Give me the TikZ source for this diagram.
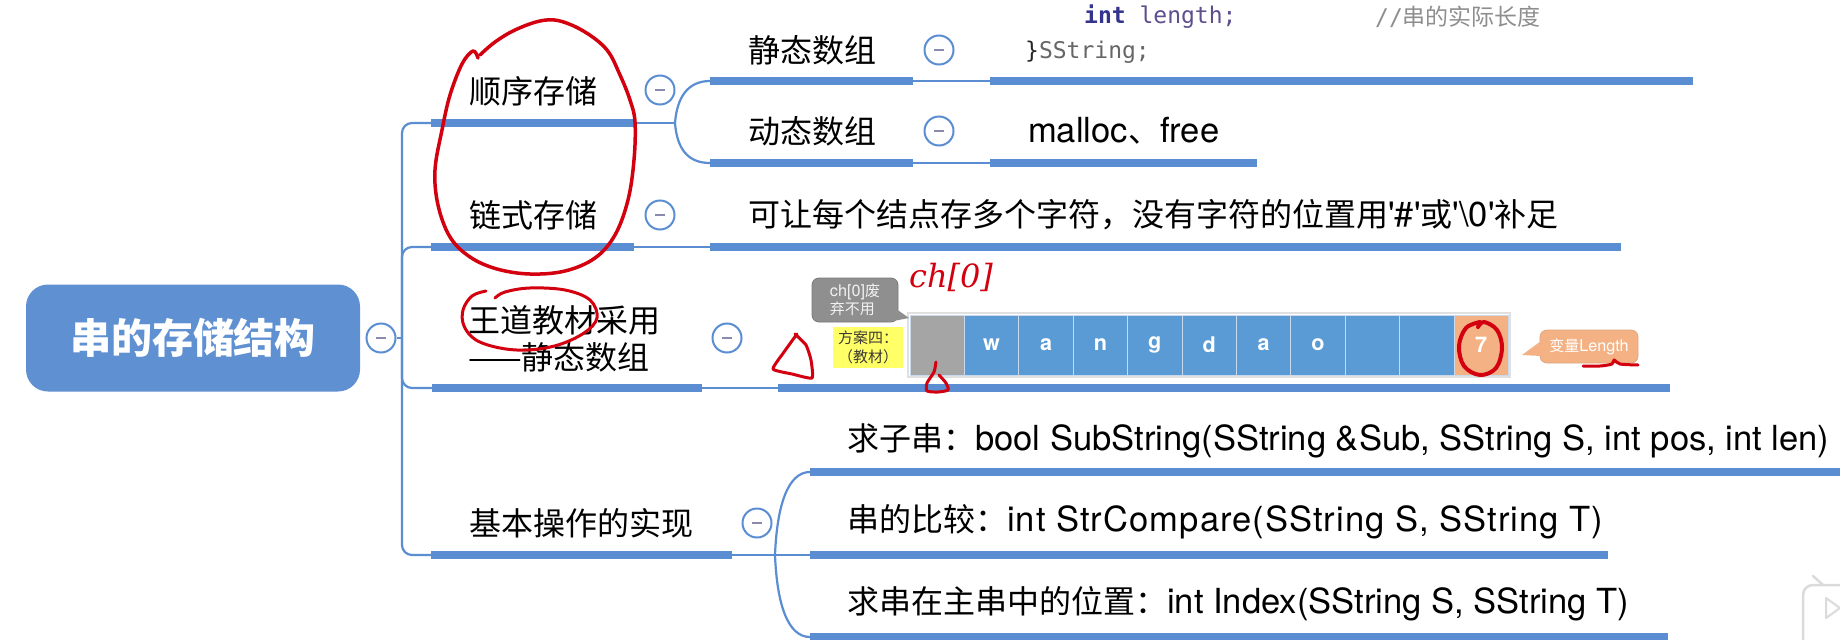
\documentclass[tikz,border=0pt]{standalone}
\usepackage{fontspec}
\setmainfont{TeX Gyre Heros}[Scale=1.08]
\newfontfamily\cjk{Noto Sans CJK SC}
\newfontfamily\monof{DejaVu Sans Mono}
\newfontfamily\handf{DejaVu Serif}
\newfontfamily\widelat{TeX Gyre Heros}[Scale=1.08, LetterSpace=3]
\newcommand{\zhx}[1]{{\cjk #1}}
\definecolor{lineblue}{HTML}{5B8DD3}
\definecolor{rootblue}{HTML}{5E90D2}
\definecolor{cellblue}{HTML}{5B9BD5}
\definecolor{cellgray}{HTML}{A5A5A5}
\definecolor{cellorange}{HTML}{F4B183}
\definecolor{cellline}{HTML}{C9DAEE}
\definecolor{calloutgray}{HTML}{8F8F8F}
\definecolor{hlyellow}{HTML}{FFFF66}
\definecolor{inkred}{HTML}{D3000F}
\definecolor{minuscol}{HTML}{8A8AB0}
\definecolor{kwblue}{HTML}{34348F}
\definecolor{varpurple}{HTML}{5E4E8E}
\definecolor{cmtgray}{HTML}{8E8E8E}
\tikzset{
  bar/.style={draw=lineblue, line width=8pt},
  conn/.style={draw=lineblue, line width=2.2pt},
  collapse/.style={circle, draw=lineblue, line width=2pt, fill=white, minimum size=29pt, inner sep=0pt,
    path picture={\draw[minuscol, line width=2.4pt] ([xshift=-5pt]path picture bounding box.center) -- ([xshift=5pt]path picture bounding box.center);}},
  rootbox/.style={rectangle, rounded corners=22pt, fill=rootblue, minimum width=334pt, minimum height=107pt,
    text=white, font=\fontsize{41}{48}\selectfont\cjk\bfseries},
  lvl/.style={anchor=west, inner sep=0pt, font=\fontsize{32}{38}\selectfont, align=left},
  codet/.style={anchor=west, inner sep=0pt, font=\fontsize{23}{28}\selectfont\monof},
  cell/.style={rectangle, minimum width=54.4pt, minimum height=60pt, draw=cellline, line width=1pt,
    text=white, inner sep=0pt, font=\fontsize{20}{24}\selectfont\bfseries},
  gcallout/.style={rectangle, rounded corners=7pt, fill=calloutgray, draw=calloutgray!85!black, line width=0.8pt,
    minimum width=86pt, minimum height=44pt, text=white!90!gray, align=left, inner sep=2pt,
    font=\fontsize{15}{18}\selectfont},
  ybox/.style={rectangle, fill=hlyellow, minimum width=70pt, minimum height=41pt, inner sep=1pt, align=center,
    text=black!80!yellow!60!black, font=\fontsize{15}{19}\selectfont},
  ocallout/.style={rectangle, rounded corners=7pt, fill=cellorange, draw=cellorange!80!gray, line width=0.8pt,
    minimum width=98pt, minimum height=33pt, text=white, inner sep=1pt, font=\fontsize{15}{18}\selectfont},
  redink/.style={draw=inkred, line width=3.5pt, line cap=round, line join=round},
}
\begin{document}
\begin{tikzpicture}[x=1pt,y=-1pt]
\useasboundingbox (0,0) rectangle (1840,640);
\fill[white] (0,0) rectangle (1840,640);

% ---------- root ----------
\node[rootbox] (root) at (193,338) {串的存储结构};
\node[collapse] (c0) at (381,338) {};
\coordinate (T) at (402,338);
\draw[conn] (c0.east) -- (T);

% ---------- level 1 coordinates ----------
\coordinate (a1) at (431,123); \coordinate (a2) at (634,123);
\coordinate (b1) at (431,247); \coordinate (b2) at (634,247);
\coordinate (w1) at (432,388); \coordinate (w2) at (702,388);
\coordinate (o1) at (431,555); \coordinate (o2) at (732,555);

\draw[conn, rounded corners=10pt] (T) |- (a1);
\draw[conn, rounded corners=10pt] (T) |- (b1);
\draw[conn, rounded corners=10pt] (T) |- (w1);
\draw[conn, rounded corners=10pt] (T) |- (o1);
\draw[bar] (a1) -- (a2);
\draw[bar] (b1) -- (b2);
\draw[bar] (w1) -- (w2);
\draw[bar] (o1) -- (o2);

\node[lvl] (nA) at (469,91) {\zhx{顺序存储}};
\node[lvl] (nB) at (469,215) {\zhx{链式存储}};
\node[lvl] (nC) at (468,339) {\zhx{王道教材采用}\\[-1pt]\zhx{——静态数组}};
\node[lvl] (nD) at (469,523) {\zhx{基本操作的实现}};
\node[collapse] (kA) at (660,90) {};
\node[collapse] (kB) at (660,215) {};
\node[collapse] (kC) at (727,338) {};
\node[collapse] (kD) at (757,523) {};

% ---------- 顺序存储 children ----------
\coordinate (jA) at (675,123);
\coordinate (s1) at (710,81); \coordinate (s2) at (913,81);
\coordinate (d1) at (710,163); \coordinate (d2) at (913,163);
\draw[conn] (a2) -- (jA);
\draw[conn] (jA) .. controls (677,97) and (688,81) .. (s1);
\draw[conn] (jA) .. controls (677,149) and (688,163) .. (d1);
\draw[bar] (s1) -- (s2);
\draw[bar] (d1) -- (d2);
\node[lvl] (nS) at (748,50) {\zhx{静态数组}};
\node[lvl] (nDy) at (748,131) {\zhx{动态数组}};
\node[collapse] (kS) at (939,50) {};
\node[collapse] (kDy) at (939,131) {};

\coordinate (s3) at (990,81); \coordinate (s4) at (1693,81);
\coordinate (d3) at (990,163); \coordinate (d4) at (1257,163);
\draw[conn] (s2) -- (s3);
\draw[conn] (d2) -- (d3);
\draw[bar] (s3) -- (s4);
\draw[bar] (d3) -- (d4);
\node[codet] (code1) at (1084,17) {{\bfseries\color{kwblue}int} {\color{varpurple}length;}};
\node[codet] (code2) at (1375,17) {\color{cmtgray}//{\cjk 串的实际长度}};
\node[codet] (code3) at (1025,52) {{\color{black!85}\}}{\color{black!60}SString;}};
\node[lvl] (nM) at (1028,131) {malloc\zhx{、}free};

% ---------- 链式存储 child ----------
\coordinate (b3) at (710,247); \coordinate (b4) at (1621,247);
\draw[conn] (b2) -- (b3);
\draw[bar] (b3) -- (b4);
\node[lvl] (nL) at (748,215) {\zhx{可让每个结点存多个字符，没有字符的位置用}\textquotesingle\#\textquotesingle\zhx{或}\textquotesingle\textbackslash0\textquotesingle\zhx{补足}};

% ---------- 王道 child : array ----------
\coordinate (w3) at (778,388); \coordinate (w4) at (1670,388);
\draw[conn] (w2) -- (w3);
\draw[bar] (w3) -- (w4);
\draw[black!12, line width=2pt] (908,313) rectangle (1510,377);
\foreach \i/\t/\c in {0//cellgray,1/w/cellblue,2/a/cellblue,3/n/cellblue,4/g/cellblue,5/d/cellblue,6/a/cellblue,7/o/cellblue,8//cellblue,9//cellblue,10/7/cellorange}
  \node[cell, fill=\c] (cell\i) at ({910+54.4*\i+27.2},345) {\t};
\node[gcallout] (gc) at (855,300) {ch[0]\zhx{废}\\\zhx{弃不用}};
\fill[calloutgray] (892,306) -- (909,318) -- (888,322) -- cycle;
\node[ybox] (yb) at (868,347.5) {\zhx{方案四：}\\\zhx{（教材）}};
\node[ocallout] (oc) at (1589,346.5) {\zhx{变量}Length};
\fill[cellorange] (1541,341) -- (1522,355) -- (1541,356) -- cycle;

% ---------- 基本操作 children ----------
\coordinate (jD) at (775,555);
\coordinate (e1) at (810,472); \coordinate (e2) at (1840,472);
\coordinate (f1) at (810,555); \coordinate (f2) at (1608,555);
\coordinate (g1) at (810,637); \coordinate (g2) at (1668,637);
\draw[conn] (o2) -- (jD);
\draw[conn] (jD) .. controls (777,505) and (788,472) .. (e1);
\draw[conn] (jD) -- (f1);
\draw[conn] (jD) .. controls (777,605) and (788,637) .. (g1);
\draw[bar] (e1) -- (e2);
\draw[bar] (f1) -- (f2);
\draw[bar] (g1) -- (g2);
\node[lvl] (nE) at (847,441) {\zhx{求子串：}bool SubString(SString \&Sub, SString S, int pos, int len)};
\node[lvl] (nF) at (847,522) {\zhx{串的比较：}{\widelat int StrCompare(SString S, SString T)}};
\node[lvl] (nG) at (847,604) {\zhx{求串在主串中的位置：}int Index(SString S, SString T)};

% ---------- bilibili mark ----------
\draw[black!14, line width=2.5pt, rounded corners=10pt] (1803,585) rectangle (1870,650);
\draw[black!14, line width=2.5pt, line cap=round] (1813,576) -- (1823,585);
\draw[black!14, line width=2pt, line join=round] (1826,598) -- (1840,608) -- (1826,618) -- cycle;

% ---------- red hand annotations ----------
\draw[redink] plot[smooth, tension=0.6] coordinates {(478,58) (473,51) (462,64) (450,95) (442,130) (435,170) (438,205) (450,237) (470,257) (497,269) (530,274) (565,271) (595,258) (615,235) (628,200) (634,160) (635,122) (630,100) (620,75) (607,50) (585,32) (560,21) (540,21) (515,30) (495,42) (480,55)};
\draw[redink, line width=3pt] plot[smooth, tension=0.6] coordinates {(486,291) (472,296) (463,310) (464,326) (476,340) (500,348) (528,350) (558,345) (584,333) (597,318) (590,300) (565,290) (530,288) (505,292) (495,298)};
\draw[redink, line width=3pt] plot[smooth, tension=0.3] coordinates {(797,334) (784,352) (773,369) (792,374) (812,378) (811,360) (806,345) (795,334)};
\draw[redink, line width=3pt] plot[smooth, tension=0.4] coordinates {(936,362) (934,372) (927,383) (927,391) (938,392) (948,390) (946,383) (939,375)};
\node[text=inkred, inner sep=0pt, font=\fontsize{32}{36}\selectfont\handf\itshape] (hw) at (951,277) {ch[0]};
\draw[redink, line width=4pt] plot[smooth, tension=0.6] coordinates {(1480,322) (1466,328) (1459,346) (1464,366) (1480,375) (1496,368) (1502,348) (1497,330) (1484,322) (1478,327)};
\draw[redink, line width=3pt] plot[smooth, tension=0.5] coordinates {(1583,366) (1600,366) (1612,364) (1614,360) (1620,364) (1638,365)};
\end{tikzpicture}
\end{document}
